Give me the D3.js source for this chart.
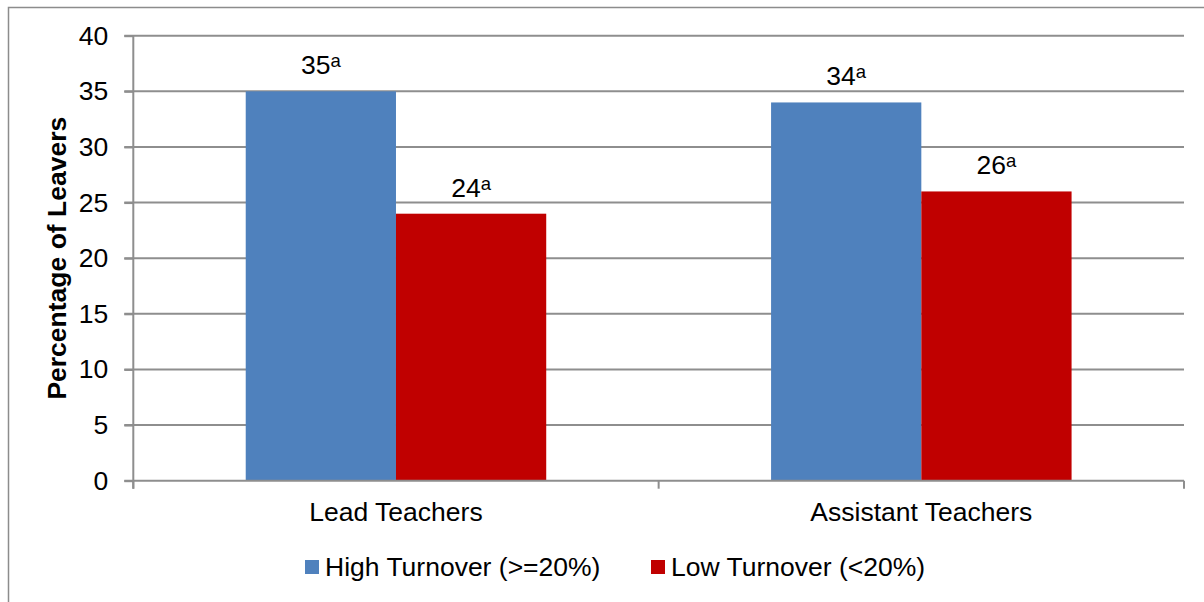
<!DOCTYPE html>
<html>
<head>
<meta charset="utf-8">
<script src="https://cdn.jsdelivr.net/npm/d3@7"></script>
<style>
  body { margin: 0; background: #fff; }
  svg text { font-family: "Liberation Sans", Arial, sans-serif; fill: #000; }
</style>
</head>
<body>
<svg id="chart" width="1204" height="602"></svg>
<script>
// chart values
const categories = ["Lead Teachers", "Assistant Teachers"];
const seriesNames = ["High Turnover (>=20%)", "Low Turnover (<20%)"];
const highTurnover = [35, 34];
const lowTurnover = [24, 26];
const noteMarks = ["a", "a"]; // superscript note on every bar
const yTicks = [0, 5, 10, 15, 20, 25, 30, 35, 40];

const colors = ["#4F81BD", "#C00000"];

const plot = {left: 133.3, right: 1184, top: 35.7, bottom: 480.7};
const fontSize = "26.5px";

// rows for the bars
var rows = [];
categories.forEach(function (c, i) {
    rows.push({cat: c, series: seriesNames[0], value: highTurnover[i], note: noteMarks[i]});
    rows.push({cat: c, series: seriesNames[1], value: lowTurnover[i], note: noteMarks[i]});
});

let svg = d3.select("#chart");

// outer chart border (runs off the right and bottom edge)
svg.append("rect")
    .attr("x", 8.5)
    .attr("y", 7.5)
    .attr("width", 1220)
    .attr("height", 620)
    .style("fill", "none")
    .style("stroke", "#8c8c8c")
    .style("stroke-width", 1.5);

let yScale = d3.scaleLinear([0, 40], [plot.bottom, plot.top]);

let xScale = d3.scaleBand()
    .domain(categories)
    .range([plot.left, plot.right])
    .paddingInner(0.428)
    .paddingOuter(0.214);

let xInner = d3.scaleBand()
    .domain(seriesNames)
    .range([0, xScale.bandwidth()]);

let color = d3.scaleOrdinal(seriesNames, colors);

// gridlines
svg.append("g")
    .selectAll("line")
    .data(yTicks.filter(d => d > 0))
    .join("line")
    .attr("x1", plot.left - 9)
    .attr("x2", plot.right)
    .attr("y1", d => yScale(d))
    .attr("y2", d => yScale(d))
    .style("stroke", "#8e8e8e")
    .style("stroke-width", 2);

// y axis labels + ticks
let yAxis = svg.append("g")
    .attr("transform", `translate(${plot.left},0)`)
    .call(d3.axisLeft(yScale).tickValues(yTicks).tickSize(9).tickPadding(16));
yAxis.select(".domain").remove();
yAxis.selectAll(".tick line").style("stroke", "#8e8e8e").style("stroke-width", 2);
yAxis.selectAll(".tick text")
    .style("font-size", fontSize)
    .style("font-family", '"Liberation Sans", Arial, sans-serif')
    .attr("fill", "#000");

// bars
svg.append("g")
    .selectAll("rect")
    .data(rows)
    .join("rect")
    .attr("x", d => xScale(d.cat) + xInner(d.series))
    .attr("y", d => yScale(d.value))
    .attr("width", xInner.bandwidth())
    .attr("height", d => yScale(0) - yScale(d.value))
    .style("fill", d => color(d.series));

// value labels with superscript note
let labels = svg.append("g")
    .selectAll("text")
    .data(rows)
    .join("text")
    .attr("x", d => xScale(d.cat) + xInner(d.series) + xInner.bandwidth() / 2)
    .attr("y", d => yScale(d.value) - 17)
    .attr("text-anchor", "middle")
    .style("font-size", fontSize);
labels.append("tspan").text(d => d.value);
labels.append("tspan")
    .attr("dy", -7)
    .style("font-size", "18.5px")
    .text(d => d.note);

// y axis line
svg.append("line")
    .attr("x1", plot.left).attr("x2", plot.left)
    .attr("y1", plot.top).attr("y2", plot.bottom + 8)
    .style("stroke", "#8e8e8e")
    .style("stroke-width", 2);

// x axis line + category boundary ticks
svg.append("line")
    .attr("x1", plot.left - 9).attr("x2", plot.right)
    .attr("y1", plot.bottom).attr("y2", plot.bottom)
    .style("stroke", "#8e8e8e")
    .style("stroke-width", 2);

let bounds = [plot.left].concat(categories.map(c => xScale(c) + xScale.bandwidth() + xScale.step() * xScale.paddingOuter()));
svg.append("g")
    .selectAll("line")
    .data(bounds)
    .join("line")
    .attr("x1", d => d).attr("x2", d => d)
    .attr("y1", plot.bottom).attr("y2", plot.bottom + 8)
    .style("stroke", "#8e8e8e")
    .style("stroke-width", 2);

// category labels
svg.append("g")
    .selectAll("text")
    .data(categories)
    .join("text")
    .attr("x", d => xScale(d) + xScale.bandwidth() / 2)
    .attr("y", 521)
    .attr("text-anchor", "middle")
    .style("font-size", fontSize)
    .text(d => d);

// y title
svg.append("text")
    .attr("transform", `translate(66,${(plot.top + plot.bottom) / 2}) rotate(-90)`)
    .attr("text-anchor", "middle")
    .style("font-size", fontSize)
    .style("font-weight", "bold")
    .text("Percentage of Leavers");

// legend
let legendX = [305, 651];
let legend = svg.append("g")
    .selectAll("g")
    .data(seriesNames)
    .join("g")
    .attr("transform", (d, i) => `translate(${legendX[i]},560)`);
legend.append("rect")
    .attr("width", 14)
    .attr("height", 14)
    .style("fill", d => color(d));
legend.append("text")
    .attr("x", 20)
    .attr("y", 15.7)
    .style("font-size", fontSize)
    .text(d => d);
</script>
</body>
</html>
